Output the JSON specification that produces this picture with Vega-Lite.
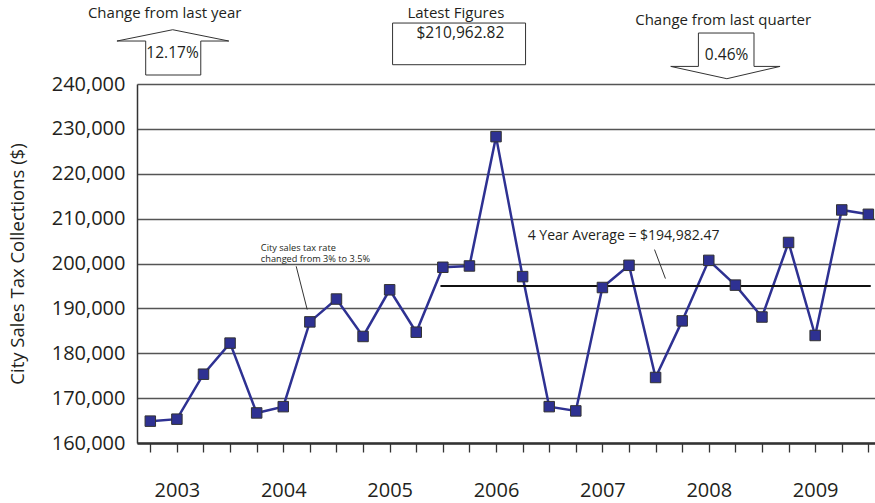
{
  "$schema": "https://vega.github.io/schema/vega-lite/v6.json",
  "autosize": {"type": "none"},
  "padding": {"left": 137, "top": 84, "right": 0, "bottom": 60},
  "width": 738,
  "height": 359,
  "background": "white",
  "config": {
    "view": {"stroke": null},
    "font": "Open Sans",
    "text": {"font": "Open Sans", "color": "#231f20"}
  },
  "datasets": {
    "sales": [
      {"q": 0, "value": 164870}, {"q": 1, "value": 165310}, {"q": 2, "value": 175330}, {"q": 3, "value": 182260},
      {"q": 4, "value": 166700}, {"q": 5, "value": 168100}, {"q": 6, "value": 186990}, {"q": 7, "value": 192080},
      {"q": 8, "value": 183740}, {"q": 9, "value": 194140}, {"q": 10, "value": 184690}, {"q": 11, "value": 199160},
      {"q": 12, "value": 199450}, {"q": 13, "value": 228270}, {"q": 14, "value": 197080}, {"q": 15, "value": 168100},
      {"q": 16, "value": 167150}, {"q": 17, "value": 194650}, {"q": 18, "value": 199600}, {"q": 19, "value": 174600},
      {"q": 20, "value": 187210}, {"q": 21, "value": 200700}, {"q": 22, "value": 195180}, {"q": 23, "value": 188074},
      {"q": 24, "value": 204690}, {"q": 25, "value": 183960}, {"q": 26, "value": 211937}, {"q": 27, "value": 210962.82}
    ],
    "avg": [{"q": 10.91, "q2": 27.09, "value": 194982.47}],
    "paths": [
      {"id": "tax", "o": 0, "q": 5.486, "value": 199380},
      {"id": "tax", "o": 1, "q": 5.90, "value": 189737},
      {"id": "avg", "o": 0, "q": 18.96, "value": 203099},
      {"id": "avg", "o": 1, "q": 19.37, "value": 196641},
      {"id": "up", "o": 0, "q": -0.173, "value": 242004},
      {"id": "up", "o": 1, "q": -0.173, "value": 249576},
      {"id": "up", "o": 2, "q": -1.254, "value": 249576},
      {"id": "up", "o": 3, "q": 0.843, "value": 252093},
      {"id": "up", "o": 4, "q": 2.952, "value": 249576},
      {"id": "up", "o": 5, "q": 1.898, "value": 249576},
      {"id": "up", "o": 6, "q": 1.898, "value": 242004},
      {"id": "up", "o": 7, "q": -0.173, "value": 242004},
      {"id": "down", "o": 0, "q": 20.61, "value": 251358},
      {"id": "down", "o": 1, "q": 22.70, "value": 251358},
      {"id": "down", "o": 2, "q": 22.70, "value": 243920},
      {"id": "down", "o": 3, "q": 23.68, "value": 243920},
      {"id": "down", "o": 4, "q": 21.68, "value": 241180},
      {"id": "down", "o": 5, "q": 19.57, "value": 243920},
      {"id": "down", "o": 6, "q": 20.61, "value": 243920},
      {"id": "down", "o": 7, "q": 20.61, "value": 251358}
    ],
    "box": [{"q": 9.11, "q2": 14.11, "value": 253585, "value2": 244298}],
    "headTitles": [
      {"label": "Change from last year", "q": 0.54, "value": 255812},
      {"label": "Latest Figures", "q": 11.49, "value": 255900},
      {"label": "Change from last quarter", "q": 21.54, "value": 254320}
    ],
    "headValues": [
      {"label": "12.17%", "q": 0.836, "value": 246904},
      {"label": "$210,962.82", "q": 11.66, "value": 251450},
      {"label": "0.46%", "q": 21.67, "value": 246525}
    ],
    "smallNotes": [
      {"label": "City sales tax rate\nchanged from 3% to 3.5%", "q": 4.157, "value": 203477}
    ],
    "avgNote": [{"label": "4 Year Average = $194,982.47", "q": 14.19, "value": 206216}]
  },
  "encoding": {
    "x": {
      "field": "q", "type": "quantitative",
      "scale": {"domain": [-0.5, 27.25], "nice": false, "zero": false},
      "title": null,
      "axis": {
        "values": [0,1,2,3,4,5,6,7,8,9,10,11,12,13,14,15,16,17,18,19,20,21,22,23,24,25,26,27],
        "labelExpr": "datum.value % 4 == 1 ? '' + (2003 + floor(datum.value / 4)) : ''",
        "labelFontSize": 20,
        "labelColor": "#231f20",
        "labelFont": "Open Sans",
        "labelPadding": 28,
        "labelFlush": false,
        "labelOverlap": false,
        "labelBound": false,
        "tickSize": 9,
        "tickColor": "#333333",
        "tickWidth": 1.3,
        "domainColor": "#333333",
        "domainWidth": 2.5,
        "grid": false
      }
    },
    "y": {
      "field": "value", "type": "quantitative",
      "scale": {"domain": [160000, 240000], "nice": false, "zero": false},
      "title": "City Sales Tax Collections ($)",
      "axis": {
        "titleFontSize": 18.5,
        "titleFontWeight": "normal",
        "titleFont": "Open Sans",
        "titleColor": "#231f20",
        "titlePadding": 24,
        "values": [160000,170000,180000,190000,200000,210000,220000,230000,240000],
        "labelExpr": "format(datum.value, ',d')",
        "labelFontSize": 20,
        "labelColor": "#231f20",
        "labelFont": "Open Sans",
        "labelPadding": 12,
        "tickSize": 0,
        "domainColor": "#333333",
        "domainWidth": 1.5,
        "grid": true,
        "gridColor": "#555555",
        "gridWidth": 1.3
      }
    }
  },
  "layer": [
    {
      "data": {"name": "sales"},
      "mark": {"type": "line", "color": "#2e3192", "strokeWidth": 2.5}
    },
    {
      "data": {"name": "avg"},
      "mark": {"type": "rule", "color": "#111111", "strokeWidth": 2},
      "encoding": {"x2": {"field": "q2"}}
    },
    {
      "data": {"name": "sales"},
      "mark": {"type": "point", "shape": "square", "filled": true, "size": 110, "color": "#2e3192", "stroke": "#333333", "strokeWidth": 1, "opacity": 1}
    },
    {
      "data": {"name": "paths"},
      "mark": {"type": "line", "color": "#333333", "strokeWidth": 1},
      "encoding": {
        "detail": {"field": "id"},
        "order": {"field": "o"}
      }
    },
    {
      "data": {"name": "box"},
      "mark": {"type": "rect", "fill": "white", "stroke": "#333333", "strokeWidth": 1},
      "encoding": {"x2": {"field": "q2"}, "y2": {"field": "value2"}}
    },
    {
      "data": {"name": "headTitles"},
      "mark": {"type": "text", "fontSize": 15, "align": "center", "baseline": "middle", "color": "#231f20"},
      "encoding": {"text": {"field": "label"}}
    },
    {
      "data": {"name": "headValues"},
      "mark": {"type": "text", "fontSize": 15.5, "align": "center", "baseline": "middle", "color": "#231f20"},
      "encoding": {"text": {"field": "label"}}
    },
    {
      "data": {"name": "smallNotes"},
      "mark": {"type": "text", "fontSize": 9.2, "align": "left", "baseline": "middle", "lineBreak": "\n", "lineHeight": 11, "color": "#231f20"},
      "encoding": {"text": {"field": "label"}}
    },
    {
      "data": {"name": "avgNote"},
      "mark": {"type": "text", "fontSize": 14, "align": "left", "baseline": "middle", "color": "#231f20"},
      "encoding": {"text": {"field": "label"}}
    }
  ]
}
